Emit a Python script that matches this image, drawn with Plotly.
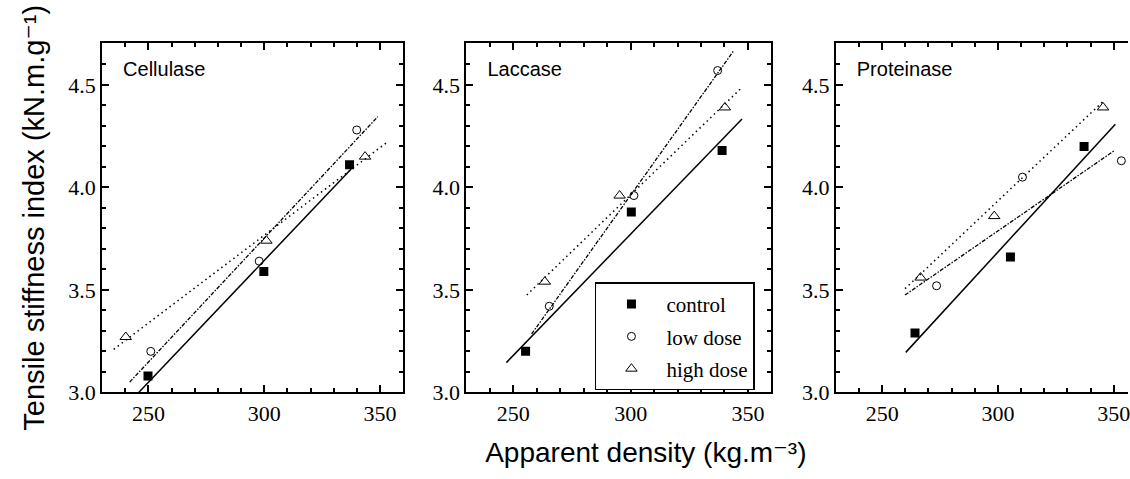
import plotly.graph_objects as go

panel_names = ["Cellulase", "Laccase", "Proteinase"]
series_names = ["control", "low dose", "high dose"]

# ---- measured points (apparent density, tensile stiffness index) ----
cel_control_x = [249.8, 299.8, 336.8]
cel_control_y = [3.08, 3.59, 4.11]
cel_low_x = [251.0, 297.8, 339.9]
cel_low_y = [3.20, 3.64, 4.28]
cel_high_x = [240.2, 300.9, 343.5]
cel_high_y = [3.27, 3.74, 4.15]

lac_control_x = [255.2, 300.3, 339.0]
lac_control_y = [3.20, 3.88, 4.18]
lac_low_x = [265.3, 301.4, 337.1]
lac_low_y = [3.42, 3.96, 4.57]
lac_high_x = [263.4, 295.3, 340.2]
lac_high_y = [3.54, 3.96, 4.39]

pro_control_x = [264.2, 305.4, 337.2]
pro_control_y = [3.29, 3.66, 4.20]
pro_low_x = [273.5, 310.6, 353.3]
pro_low_y = [3.52, 4.05, 4.13]
pro_high_x = [266.6, 298.4, 345.4]
pro_high_y = [3.56, 3.86, 4.39]

# ---- regression line end points ----
cel_control_fit_x = [245.9, 337.5]
cel_control_fit_y = [3.00, 4.09]
cel_low_fit_x = [241.9, 349.0]
cel_low_fit_y = [3.05, 4.345]
cel_high_fit_x = [235.0, 353.0]
cel_high_fit_y = [3.21, 4.22]

lac_control_fit_x = [247.0, 347.5]
lac_control_fit_y = [3.145, 4.334]
lac_low_fit_x = [257.8, 344.1]
lac_low_fit_y = [3.285, 4.669]
lac_high_fit_x = [255.7, 347.7]
lac_high_fit_y = [3.475, 4.49]

pro_control_fit_x = [260.2, 350.7]
pro_control_fit_y = [3.195, 4.308]
pro_low_fit_x = [259.9, 350.1]
pro_low_fit_y = [3.475, 4.178]
pro_high_fit_x = [259.9, 345.4]
pro_high_fit_y = [3.506, 4.419]

points = [
    [(cel_control_x, cel_control_y), (cel_low_x, cel_low_y), (cel_high_x, cel_high_y)],
    [(lac_control_x, lac_control_y), (lac_low_x, lac_low_y), (lac_high_x, lac_high_y)],
    [(pro_control_x, pro_control_y), (pro_low_x, pro_low_y), (pro_high_x, pro_high_y)],
]
fits = [
    [(cel_control_fit_x, cel_control_fit_y), (cel_low_fit_x, cel_low_fit_y), (cel_high_fit_x, cel_high_fit_y)],
    [(lac_control_fit_x, lac_control_fit_y), (lac_low_fit_x, lac_low_fit_y), (lac_high_fit_x, lac_high_fit_y)],
    [(pro_control_fit_x, pro_control_fit_y), (pro_low_fit_x, pro_low_fit_y), (pro_high_fit_x, pro_high_fit_y)],
]

W, H = 1130, 479
sans = "Liberation Sans, Arial, DejaVu Sans, sans-serif"
serif = "Liberation Serif, Times New Roman, serif"
marker_styles = [
    dict(symbol="square", size=9, color="black", line=dict(color="black", width=0)),
    dict(symbol="circle-open", size=8, color="black", line=dict(color="black", width=1)),
    dict(symbol="triangle-up-open", size=10, color="black", line=dict(color="black", width=1)),
]
line_styles = [
    dict(color="black", width=1.5, dash="solid"),
    dict(color="black", width=1.3, dash="4px,1.5px,1.5px,1.5px"),
    dict(color="black", width=1.5, dash="1.5px,3.5px"),
]

x_domains = [[102.3 / W, 404.0 / W], [467.3 / W, 772.7 / W], [837.3 / W, 1.0]]
x_ranges = [[230, 360], [230, 360], [230, 230 + (W - 837.3) / 2.32]]
y_domain = [1 - 403.3 / H, 1 - 44.5 / H]
y_range = [3.0, 4.703]
px_per_unit = [(404.0 - 102.3) / 130, (772.7 - 467.3) / 130, 2.32]

fig = go.Figure()
for p in range(3):
    ax = "" if p == 0 else str(p + 1)
    for s in range(3):
        fx, fy = fits[p][s]
        fig.add_trace(go.Scatter(x=fx, y=fy, mode="lines", line=line_styles[s],
                                 showlegend=False, hoverinfo="skip",
                                 xaxis="x" + ax, yaxis="y" + ax))
    for s in range(3):
        px_, py_ = points[p][s]
        fig.add_trace(go.Scatter(x=px_, y=py_, mode="markers", marker=marker_styles[s],
                                 name=series_names[s], showlegend=(p == 1),
                                 legendgroup=series_names[s],
                                 xaxis="x" + ax, yaxis="y" + ax))
    # panel label placed ~21px inside the top-left corner
    lx = x_ranges[p][0] + 21 / px_per_unit[p]
    ly = y_range[0] + (403.3 - 73) / 210.7
    fig.add_trace(go.Scatter(x=[lx], y=[ly], mode="text", text=[panel_names[p]],
                             textposition="middle right",
                             textfont=dict(family=sans, size=20, color="black"),
                             showlegend=False, hoverinfo="skip",
                             xaxis="x" + ax, yaxis="y" + ax))

tick_font = dict(family=serif, size=22, color="black")
for p in range(3):
    key = "" if p == 0 else str(p + 1)
    fig.update_layout({
        "xaxis" + key: dict(
            domain=x_domains[p], range=x_ranges[p], anchor="y" + key,
            dtick=50, tick0=0,
            ticks="inside", ticklen=7, tickwidth=2, tickcolor="black",
            minor=dict(ticks="inside", ticklen=4, tickwidth=1.5, tickcolor="black", dtick=10),
            showline=True, linewidth=2, linecolor="black", mirror="allticks",
            showgrid=False, zeroline=False, tickfont=tick_font,
            ticklabeloverflow="allow",
        ),
        "yaxis" + key: dict(
            domain=y_domain, range=y_range, anchor="x" + key,
            dtick=0.5, tick0=0, tickformat=".1f",
            ticks="inside", ticklen=7, tickwidth=2, tickcolor="black",
            minor=dict(ticks="inside", ticklen=4, tickwidth=1.5, tickcolor="black", dtick=0.1),
            showline=True, linewidth=2, linecolor="black",
            mirror=("allticks" if p < 2 else False),
            showgrid=False, zeroline=False, tickfont=tick_font,
        ),
    })

fig.update_layout(
    yaxis_title=dict(text="Tensile stiffness index (kN.m.g\u207b\u00b9)",
                     font=dict(family=sans, size=29, color="black")),
    title=dict(text="Apparent density (kg.m\u207b\u00b3)", x=647 / W, xanchor="center",
               xref="paper", yref="paper", y=1 - 465 / H, yanchor="middle",
               font=dict(family=sans, size=28, color="black")),
    width=W, height=H,
    margin=dict(l=0, r=0, t=0, b=0),
    paper_bgcolor="white", plot_bgcolor="white",
    legend=dict(x=596 / W, y=1 - 290.3 / H, xanchor="left", yanchor="top",
                bgcolor="white", bordercolor="black", borderwidth=1.5,
                font=dict(family=serif, size=21, color="black"),
                itemwidth=60, tracegroupgap=2),
)

fig.write_html("out.html")
